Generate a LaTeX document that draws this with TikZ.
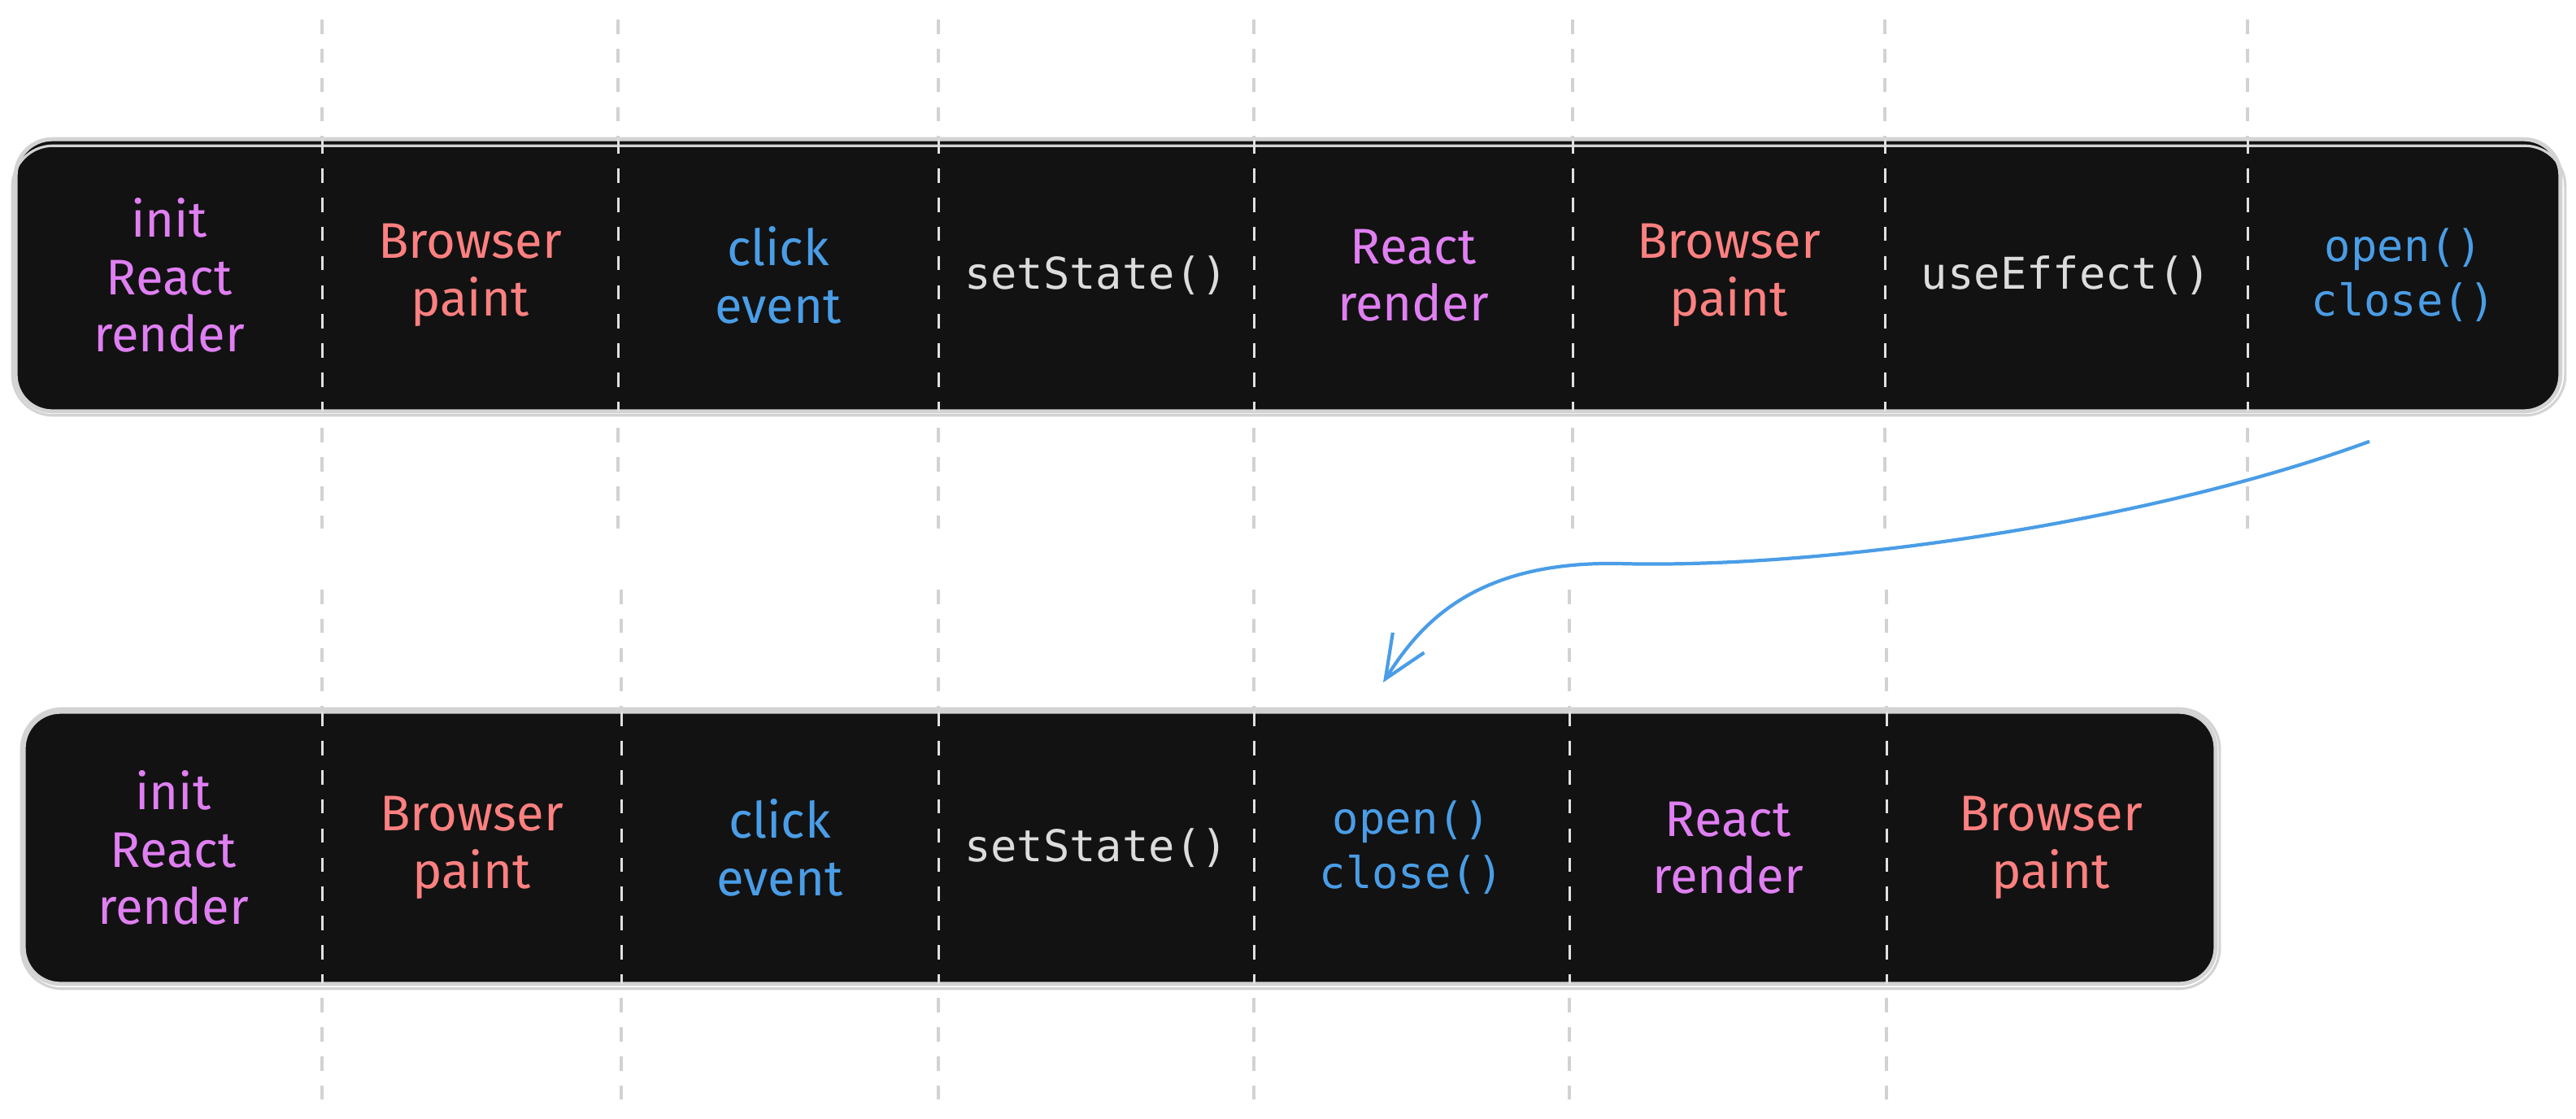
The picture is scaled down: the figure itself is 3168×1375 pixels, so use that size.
\documentclass[tikz,border=0pt]{standalone}
\usepackage{fontspec}
\setmainfont{Fira Sans}
\setmonofont{DejaVu Sans Mono}
\usepackage{tikz}
\usetikzlibrary{arrows.meta,backgrounds}
\definecolor{barfill}{HTML}{121212}
\definecolor{barline}{HTML}{D3D3D3}
\definecolor{guidegray}{HTML}{D2D2D2}
\definecolor{reactpurple}{HTML}{E07FF2}
\definecolor{paintred}{HTML}{FF8080}
\definecolor{eventblue}{HTML}{4A9DE6}
\definecolor{codegray}{HTML}{DCDCDC}
\tikzset{cell/.style={inner sep=0pt, minimum height=3.33cm, align=center, font=\fontsize{17.5}{20}\selectfont},
  code/.style={font=\ttfamily\fontsize{15.3}{19}\selectfont},
  guide/.style={guidegray, line width=1.1pt, dash pattern=on 5pt off 5.2pt},
  divider/.style={white!88!black, line width=0.9pt, dash pattern=on 5pt off 5.2pt},
  bar/.style={fill=barfill, draw=barline, line width=1.4pt, rounded corners=0.45cm},
  sketch/.style={draw=barline, line width=0.9pt, rounded corners=0.5cm},
  flow/.style={eventblue, line width=1.2pt, -{Straight Barb[length=15pt,width=13pt]}}}

\begin{document}
\begin{tikzpicture}[x=0.01cm, y=-0.01cm]
      \useasboundingbox (0,0) rectangle (3168,1375);
      % before
      \node [cell, minimum width=3.76cm, reactpurple] (t1) at (208,338.5) {init\\React\\render};
      \node [cell, minimum width=3.64cm, paintred] (t2) at (578,338.5) {Browser\\paint};
      \node [cell, minimum width=3.94cm, eventblue] (t3) at (957,338.5) {click\\event};
      \node [cell, code, minimum width=3.88cm, codegray] (t4) at (1348,338.5) {setState()};
      \node [cell, minimum width=3.92cm, reactpurple] (t5) at (1738,338.5) {React\\render};
      \node [cell, minimum width=3.84cm, paintred] (t6) at (2126,338.5) {Browser\\paint};
      \node [cell, code, minimum width=4.46cm, codegray] (t7) at (2541,338.5) {useEffect()};
      \node [cell, code, minimum width=3.84cm, eventblue] (t8) at (2956,338.5) {open()\\close()};
      % after
      \node [cell, minimum width=3.66cm, reactpurple] (b1) at (213,1042.5) {init\\React\\render};
      \node [cell, minimum width=3.68cm, paintred] (b2) at (580,1042.5) {Browser\\paint};
      \node [cell, minimum width=3.90cm, eventblue] (b3) at (959,1042.5) {click\\event};
      \node [cell, code, minimum width=3.88cm, codegray] (b4) at (1348,1042.5) {setState()};
      \node [cell, code, minimum width=3.88cm, eventblue] (b5) at (1736,1042.5) {open()\\close()};
      \node [cell, minimum width=3.90cm, reactpurple] (b6) at (2125,1042.5) {React\\render};
      \node [cell, minimum width=4.04cm, paintred] (b7) at (2522,1042.5) {Browser\\paint};
      \begin{scope}[on background layer]
        \foreach \x in {396,760,1154,1542,1934,2318,2764}
          \draw [guide] (\x,24) -- (\x,650);
        \foreach \x in {396,764,1154,1542,1930,2320}
          \draw [guide] (\x,725) -- (\x,1355);
        \draw [bar] (t1.north west) rectangle (t8.south east);
        \draw [sketch] ([shift={(-4,8)}]t1.north west) rectangle ([shift={(6,5)}]t8.south east);
        \draw [bar] (b1.north west) rectangle (b7.south east);
        \draw [sketch] ([shift={(-3,-4)}]b1.north west) rectangle ([shift={(5,6)}]b7.south east);
      \end{scope}
      \foreach \i in {1,...,7}
        \draw [divider] (t\i.north east) -- (t\i.south east);
      \foreach \i in {1,...,6}
        \draw [divider] (b\i.north east) -- (b\i.south east);
      \coordinate (jump) at ([shift={(-42,37)}]t8.south);
      \coordinate (land) at ([shift={(-35,-36)}]b5.north);
      \draw [flow] (jump) .. controls (2650,640) and (2250,700) .. (1990,693) .. controls (1810,690) and (1745,770) .. (land);
    \end{tikzpicture}
\end{document}
